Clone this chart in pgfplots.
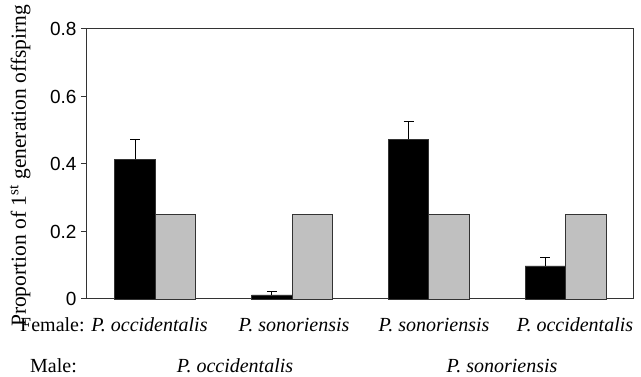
\documentclass[border=0pt]{standalone}
\usepackage{fontspec}
\setmainfont{Liberation Serif}
\newfontfamily\sansf{Liberation Sans}
\usepackage{pgfplots}
\pgfplotsset{compat=1.18}
\definecolor{barg}{HTML}{C0C0C0}
\definecolor{edge}{HTML}{333333}
\begin{document}
\begin{tikzpicture}
\begin{axis}[
  at={(0pt,0pt)}, anchor=south west,
  scale only axis, width=547pt, height=270pt,
  xmin=0.5, xmax=4.5, ymin=0, ymax=0.8,
  ybar=0pt, bar width=40.5pt,
  axis line style={edge, line width=1pt},
  xtick=\empty,
  ytick={0,0.2,0.4,0.6,0.8},
  ytick pos=left,
  tick align=outside, major tick length=6pt,
  ytick style={edge, line width=1pt},
  /pgf/number format/assume math mode=true,
  yticklabel style={font=\sansf\fontsize{19}{22}\selectfont, xshift=-1pt},
  clip=false,
]
\addplot[fill=black, draw=edge, line width=0.8pt,
  error bars/.cd, y dir=plus, y explicit,
  error bar style={black, line width=1pt},
  error mark options={rotate=90, mark size=5pt, line width=1pt}]
  coordinates {(1,0.414) +- (0,0.059) (2,0.012) +- (0,0.010) (3,0.474) +- (0,0.053) (4,0.098) +- (0,0.026)};
\addplot[fill=barg, draw=edge, line width=0.8pt]
  coordinates {(1,0.25) (2,0.25) (3,0.25) (4,0.25)};
\end{axis}
\begin{scope}[font=\fontsize{20}{23}\selectfont]
\node[anchor=base west, inner sep=0pt] at (-67pt,-33pt) {Female: \textit{P. occidentalis}};
\node[anchor=base, inner sep=0pt] at (207pt,-33pt) {\textit{P. sonoriensis}};
\node[anchor=base, inner sep=0pt] at (347pt,-33pt) {\textit{P. sonoriensis}};
\node[anchor=base, inner sep=0pt] at (488pt,-33pt) {\textit{P. occidentalis}};
\node[anchor=base west, inner sep=0pt] at (-57pt,-74pt) {Male:};
\node[anchor=base, inner sep=0pt] at (148pt,-74pt) {\textit{P. occidentalis}};
\node[anchor=base, inner sep=0pt] at (415pt,-74pt) {\textit{P. sonoriensis}};
\end{scope}
\node[rotate=90, anchor=base, inner sep=0pt, font=\fontsize{21.5}{24}\selectfont] at (-61pt,133pt) {Proportion of 1\textsuperscript{st} generation offspirng};
\pgfresetboundingbox
\path[use as bounding box] (-87pt,-78pt) rectangle (554pt,299pt);
\end{tikzpicture}
\end{document}
